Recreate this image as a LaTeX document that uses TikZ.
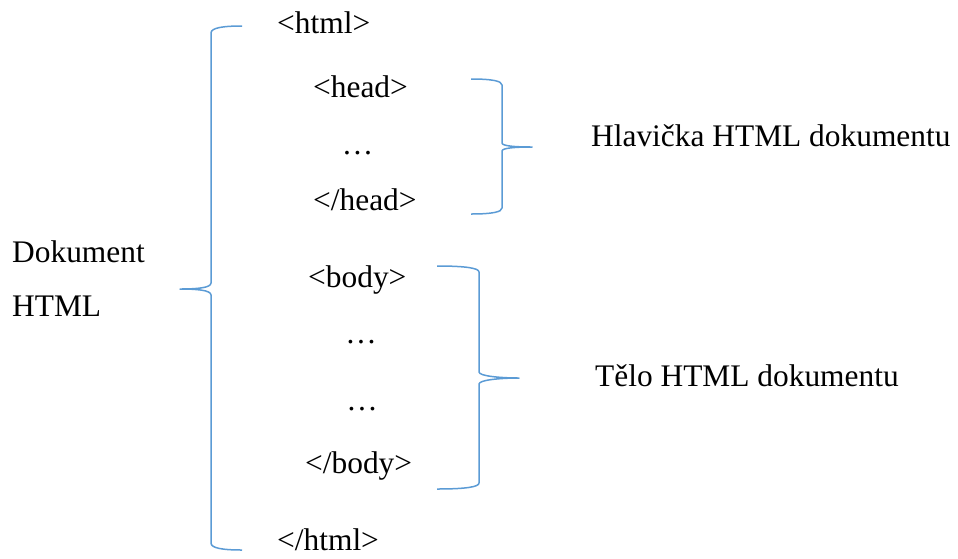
\documentclass[tikz,border=0pt]{standalone}
\usepackage{fontspec}
\setmainfont{Liberation Serif}
\definecolor{bracecol}{HTML}{5B9BD5}
\begin{document}
\begin{tikzpicture}[x=1pt,y=-1pt,
  lbl/.style={anchor=base west,inner sep=0pt,font=\fontsize{31.4}{38}\selectfont},
  dots/.style={anchor=base,inner sep=0pt,font=\fontsize{31.4}{38}\selectfont},
  brace/.style={draw=bracecol,line width=1.5pt,line join=round}]
\useasboundingbox (0,0) rectangle (958,558);
% texts
\node[lbl] (html) at (277,33) {<html>};
\node[lbl] (head) at (313,97) {<head>};
\node[dots] (hd) at (357.5,154) {…};
\node[lbl] (ehead) at (313,210) {</head>};
\node[lbl] (body) at (308,287) {<body>};
\node[dots] (bd1) at (361,343) {…};
\node[dots] (bd2) at (362,410) {…};
\node[lbl] (ebody) at (305,473) {</body>};
\node[lbl] (ehtml) at (277,550) {</html>};
\node[lbl] (dok) at (12,262) {Dokument};
\node[lbl] (dhtml) at (12,316) {HTML};
\node[lbl] (hlav) at (591,146) {Hlavička HTML dokumentu};
\node[lbl] (telo) at (595,386) {Tělo HTML dokumentu};
% left brace
\draw[brace] (242,26) .. controls (222,26) and (211,28) .. (211,33) -- (211,283)
  .. controls (211,288) and (196,289) .. (180,289)
  .. controls (196,289) and (211,290) .. (211,295) -- (211,543)
  .. controls (211,548) and (222,550) .. (242,550);
% head brace
\draw[brace] (471,79) .. controls (492,79) and (502,81) .. (502,85) -- (502,143)
  .. controls (502,146) and (515,147) .. (532,147)
  .. controls (515,147) and (502,148) .. (502,151) -- (502,208)
  .. controls (502,212) and (492,214) .. (471,214);
% body brace
\draw[brace] (437,266) .. controls (465,266) and (479,268) .. (479,272) -- (479,372)
  .. controls (479,376) and (500,378) .. (519,378)
  .. controls (500,378) and (479,380) .. (479,384) -- (479,483)
  .. controls (479,487) and (465,489) .. (437,489);
\end{tikzpicture}
\end{document}
